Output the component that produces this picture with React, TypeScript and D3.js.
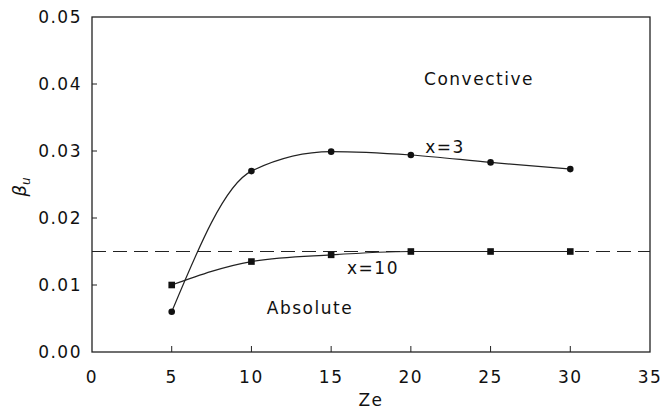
import React from "react";
import * as d3 from "d3";

const zeValues = [5, 10, 15, 20, 25, 30];
const betaX3 = [0.006, 0.027, 0.0299, 0.0294, 0.0283, 0.0273];
const betaX10 = [0.010, 0.0135, 0.0145, 0.015, 0.015, 0.015];
const thresholdBeta = 0.015;
const xTicks = [0, 5, 10, 15, 20, 25, 30, 35];
const yTicks = [0, 0.01, 0.02, 0.03, 0.04, 0.05];

const W = 667, H = 410;
const M = { left: 92, right: 650, top: 17, bottom: 352 };
const font = "'DejaVu Sans', sans-serif";

export default function App() {
  const x = d3.scaleLinear().domain([0, 35]).range([M.left, M.right]);
  const y = d3.scaleLinear().domain([0, 0.05]).range([M.bottom, M.top]);
  const line = d3
    .line<[number, number]>()
    .x((d) => x(d[0]))
    .y((d) => y(d[1]))
    .curve(d3.curveMonotoneX);
  const s3 = zeValues.map((z, i) => [z, betaX3[i]] as [number, number]);
  const s10 = zeValues.map((z, i) => [z, betaX10[i]] as [number, number]);
  const txt = { fontFamily: font, fontSize: 17, letterSpacing: 1.5, fill: "#111" } as const;

  return (
    <svg width={W} height={H} style={{ position: "absolute", left: 0, top: 0 }}>
      <rect width={W} height={H} fill="#fff" />
      <rect x={M.left} y={M.top} width={M.right - M.left} height={M.bottom - M.top} fill="none" stroke="#222" strokeWidth={1.3} />
      {yTicks.map((t) => (
        <g key={"y" + t}>
          {t > 0 && t < 0.05 && <line x1={M.left} x2={M.left + 5} y1={y(t)} y2={y(t)} stroke="#222" />}
          <text x={M.left - 10} y={y(t)} dy="0.36em" textAnchor="end" {...txt}>
            {d3.format(".2f")(t)}
          </text>
        </g>
      ))}
      {xTicks.map((t) => (
        <g key={"x" + t}>
          {t > 0 && t < 35 && <line x1={x(t)} x2={x(t)} y1={M.bottom} y2={M.bottom - 6} stroke="#222" />}
          <text x={x(t)} y={M.bottom + 25} dy="0.36em" textAnchor="middle" {...txt}>
            {t}
          </text>
        </g>
      ))}
      <line x1={M.left} x2={M.right} y1={y(thresholdBeta)} y2={y(thresholdBeta)} stroke="#222" strokeWidth={1.2} strokeDasharray="14,7" />
      <path d={line(s3) ?? ""} fill="none" stroke="#222" strokeWidth={1.2} />
      <path d={line(s10) ?? ""} fill="none" stroke="#222" strokeWidth={1.2} />
      {s3.map((d, i) => (
        <circle key={"c" + i} cx={x(d[0])} cy={y(d[1])} r={3.3} fill="#111" />
      ))}
      {s10.map((d, i) => (
        <rect key={"s" + i} x={x(d[0]) - 3.3} y={y(d[1]) - 3.3} width={6.6} height={6.6} fill="#111" />
      ))}
      <text x={479} y={79} dy="0.36em" textAnchor="middle" {...txt}>Convective</text>
      <text x={310} y={308} dy="0.36em" textAnchor="middle" {...txt}>Absolute</text>
      <text x={445} y={147} dy="0.36em" textAnchor="middle" {...txt}>x=3</text>
      <text x={373} y={268} dy="0.36em" textAnchor="middle" {...txt}>x=10</text>
      <text x={371} y={400} dy="0.36em" textAnchor="middle" {...txt}>Ze</text>
      <g transform="translate(20,187) rotate(-90)">
        <text textAnchor="middle" dy="0.36em" fontFamily={font} fontSize={18} fontStyle="italic" fill="#111">
          β<tspan fontSize={12} dy="4">u</tspan>
        </text>
      </g>
    </svg>
  );
}
